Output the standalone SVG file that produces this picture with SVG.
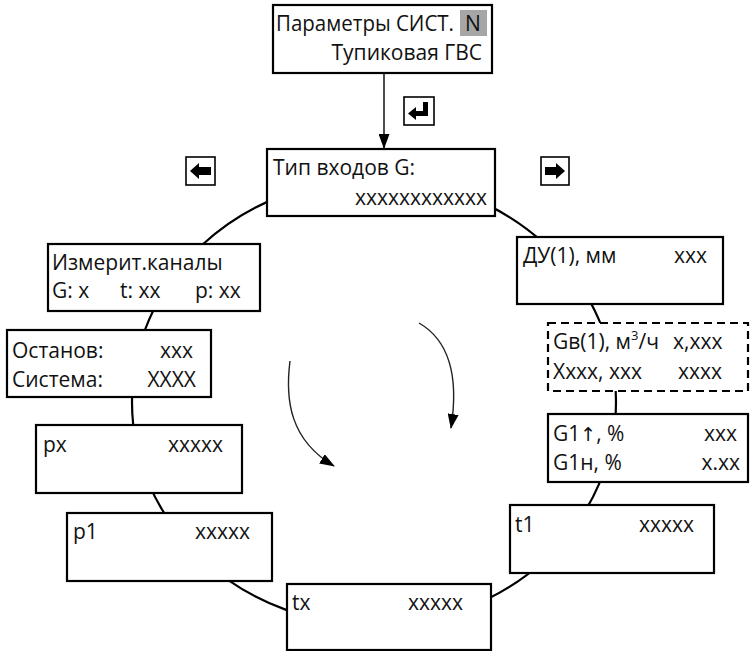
<svg xmlns="http://www.w3.org/2000/svg" width="750" height="651" viewBox="0 0 750 651">
<style>
.box{fill:#fff;stroke:#000;stroke-width:2.2}
.dash{fill:#fff;stroke:#000;stroke-width:2.2;stroke-dasharray:8 5}
.t{font-family:"Open Sans","Noto Sans",sans-serif;font-size:21px;fill:#111}
.e{text-anchor:end}
.ring{fill:none;stroke:#000;stroke-width:2.2}
.curve{fill:none;stroke:#222;stroke-width:1.4}
.icon{fill:#fff;stroke:#000;stroke-width:1.6}
</style>
<defs>
<marker id="ah" markerWidth="15" markerHeight="11" refX="14" refY="5.5" orient="auto" markerUnits="userSpaceOnUse">
<path d="M0,0 L15,5.5 L0,11 Z" fill="#000"/>
</marker>
</defs>
<g id="connectors">
<ellipse class="ring" cx="374" cy="402" rx="242" ry="223"/>
<line x1="384" y1="73" x2="384" y2="148" stroke="#000" stroke-width="1.4" marker-end="url(#ah)"/>
<path class="curve" d="M290,361 C285,400 290,440 334,466" marker-end="url(#ah)"/>
<path class="curve" d="M419,323 C445,338 460,370 451,428" marker-end="url(#ah)"/>
</g>
<g id="icon-enter">
<rect class="icon" x="404" y="97" width="30" height="28"/>
<path d="M423,102 H428 V116 H416 V120 L408,113.5 L416,107 V111 H423 Z" fill="#000"/>
</g>
<g id="icon-left">
<rect class="icon" x="186" y="157" width="29" height="28"/>
<path d="M190,171 L199,163 V167 H211 V175 H199 V179 Z" fill="#000"/>
</g>
<g id="icon-right">
<rect class="icon" x="541" y="157" width="28" height="28"/>
<path d="M565,171 L556,163 V167 H545 V175 H556 V179 Z" fill="#000"/>
</g>
<g id="node-params">
<rect class="box" x="273" y="5" width="219" height="68"/>
<rect x="460" y="10" width="27" height="26" fill="#a6a6a6"/>
<text class="t" x="276" y="31" textLength="178" lengthAdjust="spacingAndGlyphs">Параметры СИСТ.</text>
<text class="t" x="465" y="31" fill="#333">N</text>
<text class="t e" x="482" y="60">Тупиковая ГВС</text>
</g>
<g id="node-type">
<rect class="box" x="267" y="149" width="228" height="67"/>
<text class="t" x="273" y="175">Тип входов G:</text>
<text class="t e" x="487" y="205">xxxxxxxxxxxx</text>
</g>
<g id="node-channels">
<rect class="box" x="48" y="244" width="212" height="67"/>
<text class="t" x="52" y="270">Измерит.каналы</text>
<text class="t" x="52" y="298">G: x</text>
<text class="t" x="120" y="298">t: xx</text>
<text class="t" x="195" y="298">p: xx</text>
</g>
<g id="node-stop">
<rect class="box" x="7" y="330" width="204" height="67"/>
<text class="t" x="12" y="358">Останов:</text>
<text class="t e" x="193" y="358">xxx</text>
<text class="t" x="12" y="387">Система:</text>
<text class="t e" x="196" y="387">XXXX</text>
</g>
<g id="node-px">
<rect class="box" x="36" y="425" width="206" height="68"/>
<text class="t" x="43" y="452">px</text>
<text class="t" x="168" y="452">xxxxx</text>
</g>
<g id="node-p1">
<rect class="box" x="67" y="513" width="205" height="68"/>
<text class="t" x="73" y="539">p1</text>
<text class="t" x="195" y="539">xxxxx</text>
</g>
<g id="node-tx">
<rect class="box" x="287" y="584" width="204" height="66"/>
<text class="t" x="292" y="610">tx</text>
<text class="t" x="408" y="610">xxxxx</text>
</g>
<g id="node-t1">
<rect class="box" x="510" y="505" width="204" height="68"/>
<text class="t" x="515" y="532">t1</text>
<text class="t" x="639" y="532">xxxxx</text>
</g>
<g id="node-g1">
<rect class="box" x="548" y="414" width="200" height="68"/>
<text class="t" x="553" y="441">G1<tspan font-family="DejaVu Sans" font-size="19">↑</tspan>,  %</text>
<text class="t e" x="737" y="441">xxx</text>
<text class="t" x="553" y="470">G1н,  %</text>
<text class="t e" x="740" y="470">x.xx</text>
</g>
<g id="node-gv">
<rect class="dash" x="548" y="323" width="200" height="68"/>
<text class="t" x="553" y="349">Gв(1), м<tspan font-size="13" dy="-9">3</tspan><tspan dy="9">/ч</tspan></text>
<text class="t" x="673" y="349">x,xxx</text>
<text class="t" x="553" y="379">Хxxx, xxx</text>
<text class="t" x="678" y="379">xxxx</text>
</g>
<g id="node-du">
<rect class="box" x="517" y="237" width="206" height="67"/>
<text class="t" x="523" y="263">ДУ(1), мм</text>
<text class="t e" x="707" y="263">xxx</text>
</g>
</svg>
